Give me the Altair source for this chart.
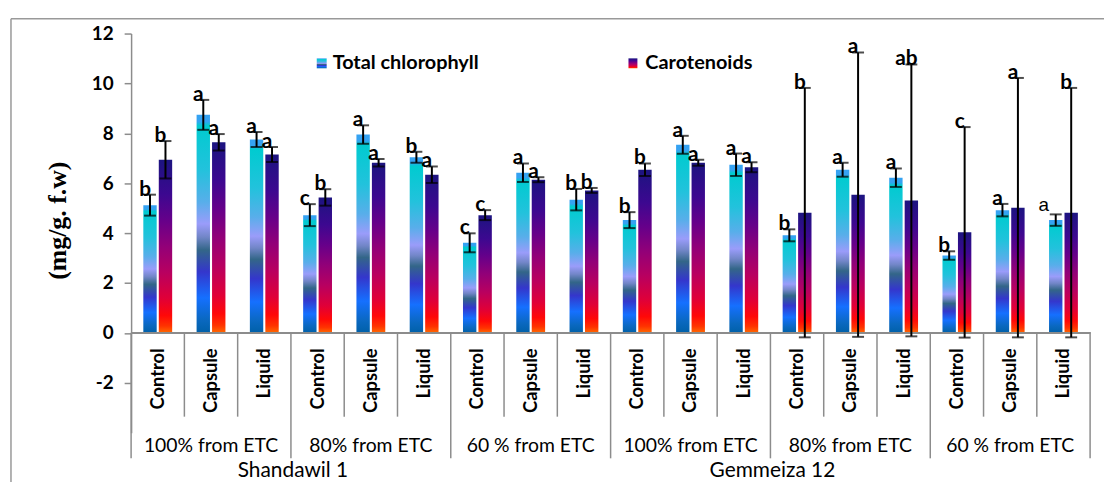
import altair as alt
import pandas as pd

cultivars = ["Shandawil 1", "Gemmeiza 12"]
levels = ["100% from ETC", "80% from ETC", "60 % from ETC"]
treatments = ["Control", "Capsule", "Liquid"]
series_names = ["Total chlorophyll", "Carotenoids"]

chl = [5.12, 8.74, 7.75, 4.72, 7.95, 7.04, 3.61, 6.42, 5.34,
       4.52, 7.54, 6.74, 3.91, 6.54, 6.22, 3.10, 4.92, 4.52]
chl_err = [0.42, 0.60, 0.30, 0.44, 0.37, 0.22, 0.38, 0.37, 0.43,
           0.32, 0.36, 0.45, 0.24, 0.28, 0.37, 0.17, 0.25, 0.23]
chl_letters = ["b", "a", "a", "c", "a", "b", "c", "a", "b",
               "b", "a", "a", "b", "a", "a", "b", "a", "a"]

car = [6.94, 7.64, 7.15, 5.43, 6.82, 6.34, 4.72, 6.14, 5.71,
       6.54, 6.82, 6.64, 4.82, 5.54, 5.31, 4.03, 5.02, 4.82]
car_err = [0.75, 0.33, 0.30, 0.33, 0.15, 0.33, 0.20, 0.10, 0.10,
           0.25, 0.12, 0.20, 5.00, 5.70, 5.45, 4.22, 5.20, 5.00]
car_letters = ["b", "a", "a", "b", "a", "a", "c", "a", "b",
               "b", "a", "a", "b", "a", "ab", "c", "a", "b"]

y_ticks = [-2, 0, 2, 4, 6, 8, 10, 12]

ids = [f"c{i:02d}" for i in range(18)]

rows = []
for i in range(18):
    for s, vals, errs, lets in [(series_names[0], chl, chl_err, chl_letters),
                                (series_names[1], car, car_err, car_letters)]:
        rows.append(dict(id=ids[i], idx=i, series=s, value=vals[i],
                         lo=vals[i] - errs[i], hi=vals[i] + errs[i], letter=lets[i]))
df = pd.DataFrame(rows)

cats = pd.DataFrame([dict(id=ids[i], idx=i, treatment=treatments[i % 3],
                          level=levels[(i // 3) % 3], cultivar=cultivars[i // 9])
                     for i in range(18)])

FONT = "Lato"
GRAY = "#8c8c8c"

xscale = alt.Scale(domain=ids, paddingInner=0, paddingOuter=0)
X = alt.X("id:N", sort=ids, scale=xscale, axis=None)
XO = alt.XOffset("series:N", sort=series_names,
                 scale=alt.Scale(domain=series_names, paddingInner=0.135, paddingOuter=0.79))
yscale = alt.Scale(domain=[-4, 12], nice=False, zero=False)

chl_grad = alt.LinearGradient(
    gradient="linear", x1=0, x2=0, y1=0, y2=1,
    stops=[alt.GradientStop(offset=0, color="#35a2f2"),
           alt.GradientStop(offset=0.03, color="#35a2f2"),
           alt.GradientStop(offset=0.05, color="#00cbd0"),
           alt.GradientStop(offset=0.25, color="#22c2dc"),
           alt.GradientStop(offset=0.40, color="#58aeea"),
           alt.GradientStop(offset=0.50, color="#9a9cfa"),
           alt.GradientStop(offset=0.56, color="#7286c8"),
           alt.GradientStop(offset=0.62, color="#336688"),
           alt.GradientStop(offset=0.72, color="#3436cc"),
           alt.GradientStop(offset=0.84, color="#1570ff"),
           alt.GradientStop(offset=0.94, color="#0a68c0"),
           alt.GradientStop(offset=1, color="#0060a8")])
car_grad = alt.LinearGradient(
    gradient="linear", x1=0, x2=0, y1=0, y2=1,
    stops=[alt.GradientStop(offset=0, color="#1c1480"),
           alt.GradientStop(offset=0.2, color="#3c0890"),
           alt.GradientStop(offset=0.35, color="#66008a"),
           alt.GradientStop(offset=0.5, color="#920078"),
           alt.GradientStop(offset=0.65, color="#b80060"),
           alt.GradientStop(offset=0.8, color="#e00038"),
           alt.GradientStop(offset=0.9, color="#ff0808"),
           alt.GradientStop(offset=0.96, color="#ff3300"),
           alt.GradientStop(offset=1, color="#ff6a00")])

yaxis = alt.Axis(values=y_ticks, grid=False, labelFont=FONT, labelFontWeight="bold",
                 labelFontSize=19, labelColor="black", tickColor=GRAY, domainColor=GRAY,
                 tickSize=7, labelPadding=11, domainWidth=1.5, tickWidth=1.5,
                 labelExpr="'' + datum.value",
                 title="(mg/g. f.w)", titleFont="Liberation Serif", titleFontSize=26,
                 titleFontWeight="bold", titleColor="black", titleX=-74, titleY=188,
                 titleAngle=270, titleAlign="center", titleBaseline="middle")

base = alt.Chart(df)

bars_chl = base.transform_filter(alt.datum.series == series_names[0]).mark_bar(
    color=chl_grad).encode(x=X, xOffset=XO, y=alt.Y("value:Q", scale=yscale, axis=yaxis))
bars_car = base.transform_filter(alt.datum.series == series_names[1]).mark_bar(
    color=car_grad).encode(x=X, xOffset=XO, y=alt.Y("value:Q", scale=yscale))

zero = alt.Chart(cats).mark_rule(color=GRAY, strokeWidth=1.5).encode(y=alt.datum(0))

err = base.mark_rule(color="black", strokeWidth=2).encode(
    x=X, xOffset=XO, y=alt.Y("lo:Q", scale=yscale), y2="hi:Q")
cap_hi = base.mark_tick(color="black", thickness=2, size=12).encode(
    x=X, xOffset=XO, y=alt.Y("hi:Q", scale=yscale))
cap_lo = base.mark_tick(color="black", thickness=2, size=12).encode(
    x=X, xOffset=XO, y=alt.Y("lo:Q", scale=yscale))

letters = base.transform_filter(
    (alt.datum.idx != 17) | (alt.datum.series != series_names[0])).mark_text(
    font=FONT, fontWeight="bold", fontSize=21, baseline="alphabetic", dx=-5, dy=1,
    color="black").encode(x=X, xOffset=XO, y=alt.Y("hi:Q", scale=yscale), text="letter:N")
letter_plain = base.transform_filter(
    (alt.datum.idx == 17) & (alt.datum.series == series_names[0])).mark_text(
    font="Liberation Sans", fontWeight="normal", fontSize=19, baseline="alphabetic",
    dx=-12, dy=-3, color="black").encode(
    x=X, xOffset=XO, y=alt.Y("hi:Q", scale=yscale), text="letter:N")

cat_text = alt.Chart(cats).mark_text(
    angle=270, align="right", baseline="middle", font=FONT, fontWeight="bold",
    fontSize=18.5, color="black").encode(x=X, y=alt.datum(-0.62), text="treatment:N")

sep_short = alt.Chart(cats).transform_filter(alt.datum.idx % 3 != 0).mark_rule(
    color=GRAY, strokeWidth=1.5).encode(
    x=alt.X("id:N", sort=ids, scale=xscale, axis=None, bandPosition=0),
    y=alt.datum(0), y2=alt.datum(-3.36))
sep_long = alt.Chart(cats).transform_filter(alt.datum.idx % 3 == 0).mark_rule(
    color=GRAY, strokeWidth=1.5).encode(
    x=alt.X("id:N", sort=ids, scale=xscale, axis=None, bandPosition=0),
    y=alt.datum(0), y2=alt.datum(-5.03))
sep_end = alt.Chart(cats).transform_filter(alt.datum.idx == 17).mark_rule(
    color=GRAY, strokeWidth=1.5).encode(
    x=alt.X("id:N", sort=ids, scale=xscale, axis=None, bandPosition=1),
    y=alt.datum(0), y2=alt.datum(-5.03))

grp_text = alt.Chart(cats).transform_filter(alt.datum.idx % 3 == 1).mark_text(
    font=FONT, fontSize=19.5, fontWeight="normal", baseline="middle", color="black").encode(
    x=X, y=alt.datum(-4.52), text="level:N")

cult_text = alt.Chart(cats).transform_filter(
    (alt.datum.idx == 3) | (alt.datum.idx == 12)).mark_text(
    font=FONT, fontSize=21, fontWeight="normal", baseline="middle", color="black", dx=2).encode(
    x=alt.X("id:N", sort=ids, scale=xscale, axis=None, bandPosition=0),
    y=alt.datum(-5.52), text="cultivar:N")

one = pd.DataFrame({"k": [0]})
leg_chl_sw = alt.Chart(one).mark_rect(color=chl_grad).encode(
    x=alt.value(187), x2=alt.value(197), y=alt.value(25), y2=alt.value(35))
leg_chl_tx = alt.Chart(one).mark_text(align="left", baseline="middle", font=FONT,
                                      fontWeight="bold", fontSize=20, color="black").encode(
    x=alt.value(203), y=alt.value(30), text=alt.value(series_names[0]))
leg_car_sw = alt.Chart(one).mark_rect(color=car_grad).encode(
    x=alt.value(501), x2=alt.value(510), y=alt.value(25), y2=alt.value(35))
leg_car_tx = alt.Chart(one).mark_text(align="left", baseline="middle", font=FONT,
                                      fontWeight="bold", fontSize=20, color="black").encode(
    x=alt.value(518), y=alt.value(30), text=alt.value(series_names[1]))

frame_l = alt.Chart(one).mark_rule(color="#999999", strokeWidth=1.5).encode(
    x=alt.value(-121), y=alt.value(-15), y2=alt.value(460))
frame_t = alt.Chart(one).mark_rule(color="#999999", strokeWidth=1.5).encode(
    x=alt.value(-121), x2=alt.value(990), y=alt.value(-15))

chart = alt.layer(
    frame_l, frame_t,
    bars_chl, bars_car, zero,
    sep_short, sep_long, sep_end,
    err, cap_hi, cap_lo, letters, letter_plain,
    cat_text, grp_text, cult_text,
    leg_chl_sw, leg_chl_tx, leg_car_sw, leg_car_tx,
).properties(
    width=966, height=402,
    padding={"left": 124, "top": 24, "right": 14, "bottom": 48},
    autosize=alt.AutoSizeParams(type="none"),
).configure_view(strokeWidth=0)

chart.save("out.html", embed_options={"renderer": "svg", "actions": False})
